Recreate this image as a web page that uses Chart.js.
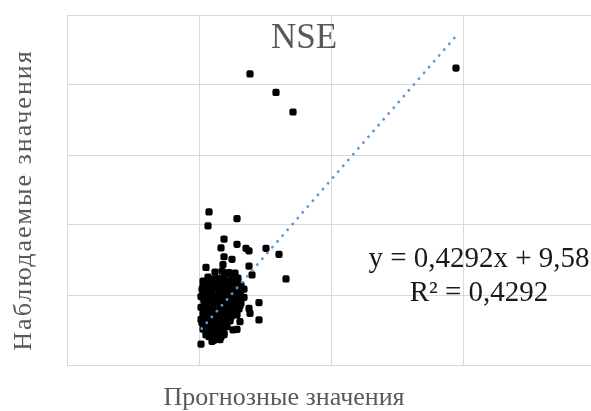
<!DOCTYPE html>
<html>
<head>
<meta charset="utf-8">
<script src="https://cdn.jsdelivr.net/npm/chart.js@4"></script>
<style>
  html, body { margin: 0; padding: 0; background: #fff; overflow: hidden; }
  #wrap { width: 620px; height: 411px; position: relative; }
</style>
</head>
<body>
<div id="wrap"><canvas id="chart"></canvas></div>
<script>
// Labels
const chartTitle = 'NSE';
const xTitle = 'Прогнозные значения';
const yTitle = 'Наблюдаемые значения';
const eqLines = ['y = 0,4292x + 9,58', 'R² = 0,4292'];

// Gridline positions (no tick labels are shown)
const xGrid = [0, 13.2, 26.4, 39.6, 52.8];
const yGrid = [14, 16.612, 19.224, 21.836, 24.448, 27.06];

// Predicted (x) vs observed (y)
const predicted = [
  18.3, 20.9, 22.6, 38.9, 14.2, 14.1, 17.0, 15.7, 15.4, 17.0, 17.9, 18.2, 19.9, 21.2, 15.7, 16.5, 15.6, 13.9,
  18.2, 16.0, 16.8, 18.5, 21.9, 14.7, 13.6, 17.3, 19.2, 16.8, 18.2, 18.3, 17.0, 19.2, 16.6, 17.0, 13.4, 14.5,
  14.1, 15.1, 15.7, 16.4, 17.1,
  13.8, 14.5, 15.3, 16.0, 16.7, 17.4,
  13.5, 14.2, 14.9, 15.6, 16.3, 17.0, 17.7,
  13.4, 14.0, 14.6, 15.2, 15.9, 16.6, 17.7,
  13.7, 14.3, 15.0, 15.5, 16.2, 16.9, 17.4,
  13.4, 13.9, 14.6, 15.3, 15.8, 16.5, 17.2,
  13.6, 14.2, 14.8, 15.5, 16.1, 16.6,
  13.4, 14.0, 14.5, 15.1, 15.7, 16.3, 17.3,
  13.7, 14.3, 14.8, 15.4, 16.0,
  13.9, 14.5, 15.1, 15.7,
  14.2, 14.8, 15.4,
  14.8, 15.5, 16.2,
  13.6, 14.3, 14.9, 15.6, 16.3, 17.0,
  14.1, 14.8, 15.6, 16.4, 17.1,
  13.8, 14.5, 15.3, 16.0, 16.7, 17.3,
  13.7, 14.3, 14.9, 15.6, 16.3, 17.1,
  14.0, 14.6, 15.3, 15.9, 16.6, 17.3,
  13.7, 14.3, 15.0, 15.6, 16.2, 16.9,
  13.8, 14.4, 15.1, 15.8, 16.4,
  13.5, 14.1, 14.7, 15.3, 15.9,
  13.6, 14.2, 14.8, 15.4,
  13.9, 14.5, 15.1, 15.7,
  14.7, 15.3
];
const observed = [
  24.86, 24.17, 23.44, 25.08, 19.71, 19.19, 19.46, 18.70, 18.37, 18.50, 18.35, 18.26, 18.35, 18.13, 18.04, 17.94, 17.75, 17.64,
  17.69, 17.43, 17.43, 17.36, 17.21, 17.21, 16.95, 16.65, 16.33, 16.24, 16.11, 15.93, 15.87, 15.68, 15.31, 15.33, 14.78, 14.88,
  17.28, 17.22, 17.26, 17.20, 17.24,
  17.05, 16.99, 17.03, 17.00, 17.06, 16.98,
  16.82, 16.78, 16.84, 16.79, 16.81, 16.77, 16.83,
  16.55, 16.60, 16.56, 16.59, 16.54, 16.58, 16.52,
  16.37, 16.33, 16.36, 16.32, 16.38, 16.34, 16.31,
  16.15, 16.11, 16.14, 16.10, 16.16, 16.12, 16.09,
  15.92, 15.88, 15.93, 15.89, 15.91, 15.87,
  15.70, 15.66, 15.69, 15.67, 15.71, 15.65, 15.62,
  15.48, 15.44, 15.47, 15.45, 15.43,
  15.25, 15.21, 15.24, 15.20,
  15.06, 15.02, 15.05,
  17.47, 17.50, 17.45,
  17.13, 17.15, 17.11, 17.14, 17.12, 17.16,
  16.91, 16.93, 16.89, 16.92, 16.90,
  16.69, 16.67, 16.71, 16.68, 16.70, 16.66,
  16.46, 16.48, 16.44, 16.47, 16.45, 16.43,
  16.24, 16.22, 16.26, 16.23, 16.25, 16.21,
  16.01, 16.03, 15.99, 16.02, 16.00, 15.98,
  15.79, 15.81, 15.77, 15.80, 15.78,
  15.57, 15.55, 15.59, 15.56, 15.58,
  15.34, 15.36, 15.32, 15.35,
  15.12, 15.14, 15.10, 15.13,
  14.93, 14.95
];

// Linear trend ends
const trendX = [13.47, 38.8];
const trendY = [15.36, 26.23];

const points = predicted.map((x, i) => ({ x, y: observed[i] }));
const trend = trendX.map((x, i) => ({ x, y: trendY[i] }));

const grey = '#d9d9d9';
const serif = '"Liberation Serif", "Times New Roman", serif';

const textPlugin = {
  id: 'texts',
  afterDraw(chart) {
    const c = chart.ctx;
    c.save();
    c.textAlign = 'center';
    c.textBaseline = 'alphabetic';

    c.fillStyle = '#595959';
    c.font = '35px ' + serif;
    c.fillText(chartTitle, 304, 48);

    c.font = '26px ' + serif;
    c.fillText(xTitle, 284, 405);

    c.save();
    c.translate(31, 200);
    c.rotate(-Math.PI / 2);
    c.letterSpacing = '2px';
    c.fillText(yTitle, 0, 0);
    c.restore();

    c.fillStyle = '#1a1a1a';
    c.font = '29px ' + serif;
    c.fillText(eqLines[0], 479, 267);
    c.fillText(eqLines[1], 479, 301);
    c.restore();
  }
};

new Chart(document.getElementById('chart'), {
  type: 'scatter',
  data: {
    datasets: [
      {
        data: trend,
        showLine: true,
        borderColor: '#5b9bd5',
        borderWidth: 2.8,
        borderDash: [0.1, 7.6],
        borderCapStyle: 'round',
        pointRadius: 0,
        order: 0,
      },
      {
        data: points,
        backgroundColor: '#000',
        borderColor: '#000',
        pointStyle: 'rectRounded',
        pointRadius: 4.2,
        borderWidth: 0,
        order: 1,
      }
    ]
  },
  options: {
    responsive: true,
    maintainAspectRatio: false,
    animation: false,
    // chart area runs past the 591px window on the right, as in the cropped original
    layout: { autoPadding: false, padding: { left: 67, right: 20, top: 15, bottom: 46 } },
    plugins: { legend: { display: false }, tooltip: { enabled: false } },
    scales: {
      x: {
        min: 0, max: 53.3,
        ticks: { display: false },
        afterBuildTicks: s => { s.ticks = xGrid.map(value => ({ value })); },
        grid: { color: grey, drawTicks: false },
        border: { color: grey },
        afterFit: s => { s.height = 0; },
      },
      y: {
        min: 14, max: 27.06,
        ticks: { display: false },
        afterBuildTicks: s => { s.ticks = yGrid.map(value => ({ value })); },
        grid: { color: grey, drawTicks: false },
        border: { color: grey },
        afterFit: s => { s.width = 0; },
      }
    }
  },
  plugins: [textPlugin]
});
</script>
</body>
</html>
